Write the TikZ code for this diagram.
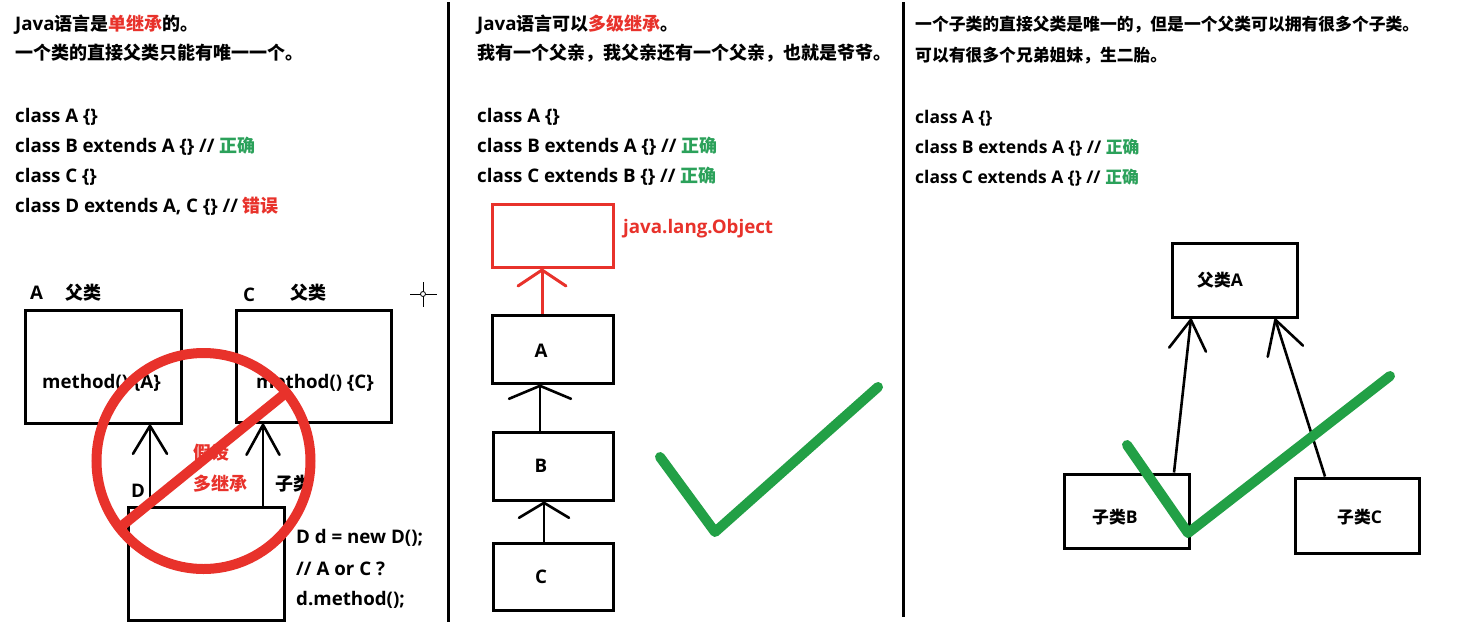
\documentclass[tikz,border=0pt]{standalone}
\usepackage{fontspec}
\setmainfont{Open Sans}[Scale=1.04]
\newfontfamily\cjkf{Noto Sans CJK SC}
\newcommand{\zh}[1]{{\cjkf #1}}
\usetikzlibrary{arrows.meta}
\definecolor{jred}{HTML}{E8322B}
\definecolor{jtext}{HTML}{2BA15A}
\definecolor{jcheck}{HTML}{22A046}
\begin{document}
\begin{tikzpicture}[x=1pt,y=-1pt,
  txt/.style={anchor=base west, inner sep=0pt, font=\bfseries\fontsize{18}{21}\selectfont},
  txtc/.style={inner sep=0pt, font=\bfseries\fontsize{18}{21}\selectfont},
  txtt/.style={anchor=base west, inner sep=0pt, font=\bfseries\fontsize{16.8}{19}\selectfont},
  box/.style={draw, line width=3pt, inner sep=0pt},
  sep/.style={line width=3pt},
  arrw/.style={line width=2.6pt, -{Straight Barb[round,length=#1]}},
  check/.style={jcheck, line width=10pt, line cap=round, line join=round}
]
\useasboundingbox (0,0) rectangle (1469,627);
\fill[white] (0,0) rectangle (1469,627);

% separators
\draw[sep] (448,2) -- (448,622);
\draw[sep] (903,2) -- (903,617);

% ---------------- panel 1 ----------------
\node[txt] (p1l1) at (15,30) {Java\zh{语言是\textcolor{jred}{单继承}的。}};
\node[txt] (p1l2) at (15,59) {\zh{一个类的直接父类只能有唯一一个。}};
\node[txt] (p1c1) at (15,122) {class A \{\}};
\node[txt] (p1c2) at (15,152) {class B extends A \{\} // \zh{\textcolor{jtext}{正确}}};
\node[txt] (p1c3) at (15,182) {class C \{\}};
\node[txt] (p1c4) at (15,212) {class D extends A, C \{\} // \zh{\textcolor{jred}{错误}}};

\node[txt] (labA) at (30,299) {A};
\node[txt] (labAf) at (65,299) {\zh{父类}};
\node[txt] (labC) at (243,301) {C};
\node[txt] (labCf) at (290,299) {\zh{父类}};
\node[txt] (labD) at (131,497) {D};
\node[txt] (labDz) at (275,490) {\zh{子类}};

\node[box, minimum width=156pt, minimum height=113pt] (A) at (103,366.5) {};
\node[box, minimum width=155pt, minimum height=112pt] (C) at (313.5,366) {};
\node[box, minimum width=156pt, minimum height=113pt] (D) at (206,563.5) {};
\node[txt] (mA) at (42,388) {method() \{A\}};
\node[txt] (mC) at (256,388) {method() \{C\}};

\draw[arrw={28pt,width=34pt}] (D.north -| 150,0) -- (A.south -| 150,0);
\draw[arrw={30pt,width=33pt}] (D.north -| 263,0) -- (C.south -| 263,0);

\node[txt, text=jred] (jia) at (193,459) {\zh{假设}};
\node[txt, text=jred] (duo) at (193,490) {\zh{多继承}};

\node[txt] (code1) at (296,543) {D d = new D();};
\node[txt] (code2) at (296,575) {// A or C ?};
\node[txt] (code3) at (296,605) {d.method();};

\draw[jred, line width=10pt] (203.5,461) ellipse [x radius=107, y radius=108];
\draw[jred, line width=10pt] (118,529) -- (287,392);

% cursor
\draw[line width=1pt] (410,294) -- (437,294) (423,282) -- (423,307);
\draw[line width=0.8pt, fill=white] (423,294) circle [radius=2.5];

% ---------------- panel 2 ----------------
\node[txt] (p2l1) at (477,30) {Java\zh{语言可以\textcolor{jred}{多级继承}。}};
\node[txt] (p2l2) at (477,59) {\zh{我有一个父亲，我父亲还有一个父亲，也就是爷爷。}};
\node[txt] (p2c1) at (477,122) {class A \{\}};
\node[txt] (p2c2) at (477,152) {class B extends A \{\} // \zh{\textcolor{jtext}{正确}}};
\node[txt] (p2c3) at (477,182) {class C extends B \{\} // \zh{\textcolor{jtext}{正确}}};

\node[box, draw=jred, minimum width=121pt, minimum height=63pt] (Obj) at (552.5,235.5) {};
\node[txt, text=jred] (objl) at (623,233) {java.lang.Object};
\node[box, minimum width=121pt, minimum height=68pt] (PA) at (552.5,349) {};
\node[box, minimum width=120pt, minimum height=68pt] (PB) at (553,466) {};
\node[box, minimum width=120pt, minimum height=67pt] (PC) at (553,576.5) {};
\node[txtc] (PAt) at (541,351) {A};
\node[txtc] (PBt) at (541,466) {B};
\node[txtc] (PCt) at (541,577) {C};

\draw[jred, arrw={16pt,width=48pt}, line width=3pt] (PA.north -| 542,0) -- (Obj.south -| 542,0);
\draw[arrw={13pt,width=62pt}] (PB.north -| 540,0) -- (PA.south -| 540,0);
\draw[arrw={15pt,width=50pt}] (PC.north -| 544,0) -- (PB.south -| 544,0);

\draw[check] (660,457) -- (715,532) -- (878,387);

% ---------------- panel 3 ----------------
\node[txtt] (p3l1) at (915,30) {\zh{一个子类的直接父类是唯一的，但是一个父类可以拥有很多个子类。}};
\node[txtt] (p3l2) at (915,61) {\zh{可以有很多个兄弟姐妹，生二胎。}};
\node[txtt] (p3c1) at (915,123) {class A \{\}};
\node[txtt] (p3c2) at (915,153) {class B extends A \{\} // \zh{\textcolor{jtext}{正确}}};
\node[txtt] (p3c3) at (915,183) {class C extends A \{\} // \zh{\textcolor{jtext}{正确}}};

\node[box, minimum width=125pt, minimum height=74pt] (TA) at (1234.5,280) {};
\node[box, minimum width=125pt, minimum height=74pt] (TB) at (1126.5,511) {};
\node[box, minimum width=124pt, minimum height=75pt] (TC) at (1357,515.5) {};
\node[txtt, anchor=west] (TAt) at (1197,280) {\zh{父类}A};
\node[txtt, anchor=west] (TBt) at (1092,517) {\zh{子类}B};
\node[txtt, anchor=west] (TCt) at (1337,517) {\zh{子类}C};

\draw[arrw={30pt,width=37pt}] (TB.north -| 1174,0) -- (TA.south -| 1191,0);
\draw[arrw={33pt,width=37pt}] (TC.north -| 1325,0) -- (TA.south -| 1275,0);

\draw[check] (1127,445) -- (1188,533) -- (1390,376);
\end{tikzpicture}
\end{document}
